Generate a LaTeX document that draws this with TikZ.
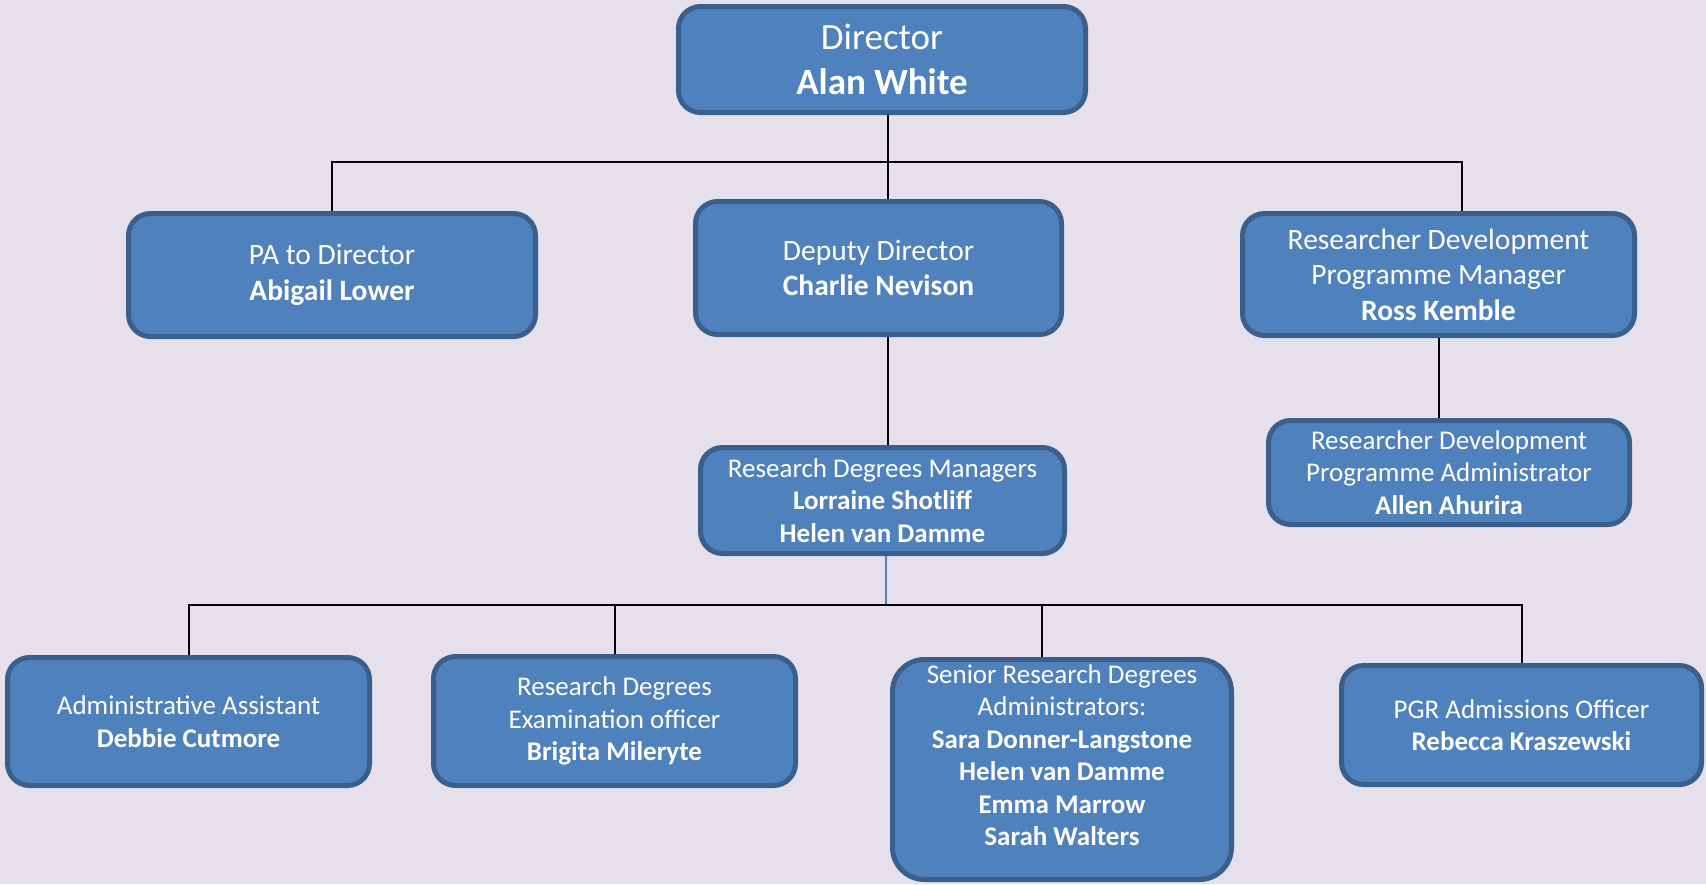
\documentclass[tikz,border=0pt]{standalone}
\usepackage{fontspec}
\setmainfont{Carlito}

\definecolor{boxfill}{HTML}{4F81BD}
\definecolor{boxline}{HTML}{3A5F8C}
\definecolor{pagebg}{HTML}{E5E0EC}

\tikzset{
  orgbox/.style={draw=boxline, fill=boxfill, line width=5pt, rounded corners=22pt,
    text=white, align=center, inner sep=0pt, font=\fontsize{27}{32.5}\selectfont},
  midtext/.style={font=\fontsize{29.5}{35.5}\selectfont},
  bigtext/.style={font=\fontsize{37}{45}\selectfont},
  wire/.style={draw=black, line width=2pt}
}

\begin{document}
\begin{tikzpicture}[x=1pt, y=-1pt]
\fill[pagebg] (0,0) rectangle (1706,884);
\useasboundingbox (0,0) rectangle (1706,884);

% top level
\node[orgbox, bigtext, minimum width=407, minimum height=106] (dir) at (882,59.5) {Director\\\textbf{Alan White}};
\node[orgbox, midtext, minimum width=407, minimum height=123] (pa) at (332,275) {PA to Director\\\textbf{Abigail Lower}};
\node[orgbox, midtext, minimum width=366, minimum height=133] (dep) at (878.5,268) {Deputy Director\\\textbf{Charlie Nevison}};
\node[orgbox, midtext, minimum width=392, minimum height=122] (rdpm) at (1438.5,274.5) {Researcher Development\\Programme Manager\\\textbf{Ross Kemble}};
\node[orgbox, minimum width=361, minimum height=104] (rdpa) at (1449,472.5) {Researcher Development\\Programme Administrator\\\textbf{Allen Ahurira}};
\node[orgbox, minimum width=364, minimum height=106] (rdm) at (882.5,500.5) {Research Degrees Managers\\\textbf{Lorraine Shotliff}\\\textbf{Helen van Damme}};

% bottom row
\node[orgbox, minimum width=362, minimum height=128] (aa) at (188.5,721.5) {Administrative Assistant\\\textbf{Debbie Cutmore}};
\node[orgbox, minimum width=362, minimum height=129] (rdeo) at (614.5,721) {Research Degrees\\Examination officer\\\textbf{Brigita Mileryte}};
\node[orgbox, rounded corners=32pt, minimum width=339, minimum height=220] (srda) at (1062,769.5) {Senior Research Degrees\\Administrators:\\\textbf{Sara Donner-Langstone}\\\textbf{Helen van Damme}\\\textbf{Emma Marrow}\\\textbf{Sarah Walters}\\[-4pt]};
\node[orgbox, minimum width=360, minimum height=119] (pgr) at (1521.5,725) {PGR Admissions Officer\\\textbf{Rebecca Kraszewski}};

% connectors
\coordinate (bus1) at (888,162);
\coordinate (bus1r) at (1462,162);
\coordinate (bus2) at (886,605);
\draw[wire] (dir.south -| bus1) -- (dep.north -| bus1);
\draw[wire] (pa.north) |- (bus1r) -- (rdpm.north -| bus1r);
\draw[wire] (dep.south -| bus1) -- (rdm.north -| bus1);
\draw[wire] (rdpm.south) -- (rdpa.north -| rdpm.south);
\draw[wire, draw=boxfill] (rdm.south -| bus2) -- (bus2);
\draw[wire] (aa.north) |- (pgr.north |- bus2) -- (pgr.north);
\draw[wire] (rdeo.north) -- (rdeo.north |- bus2);
\draw[wire] ([xshift=-20pt]srda.north) -- ([xshift=-20pt]srda.north |- bus2);
\end{tikzpicture}
\end{document}
